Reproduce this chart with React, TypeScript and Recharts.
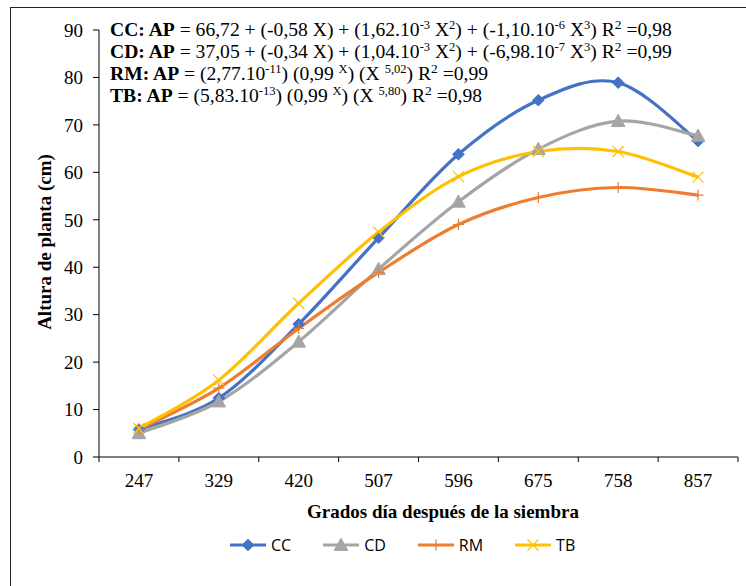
import React from "react";
import { ComposedChart, Line, XAxis, YAxis } from "recharts";

// Growing degree days after sowing (category labels)
const gdd = ["247", "329", "420", "507", "596", "675", "758", "857"];

// Plant height (cm) for each treatment
const cc = [5.8, 12.4, 28.0, 46.2, 63.8, 75.2, 78.9, 66.6];
const cd = [5.0, 11.7, 24.3, 39.6, 53.8, 64.9, 70.8, 67.7];
const rm = [5.8, 14.5, 27.1, 38.9, 49.0, 54.7, 56.8, 55.2];
const tb = [6.0, 16.2, 32.4, 47.4, 59.1, 64.4, 64.4, 59.0];

const yTicks = [0, 10, 20, 30, 40, 50, 60, 70, 80, 90];

const rows = gdd.map((g, i) => ({ g, CC: cc[i], CD: cd[i], RM: rm[i], TB: tb[i] }));

const W = 746;
const H = 586;
const M = { top: 30, right: 8, left: 0, bottom: 0 };
const Y_AXIS_W = 99;
const X_AXIS_H = 129;
const PLOT_W = W - M.left - M.right - Y_AXIS_W;

const COLORS = { CC: "#4472C4", CD: "#A5A5A5", RM: "#ED7D31", TB: "#FFC000" };
const SERIF = "'Liberation Serif', 'Times New Roman', serif";

// Smoothed line: Catmull-Rom style Bezier segments through every point
const smoothCurve = (context: any) => {
  let pts: [number, number][] = [];
  return {
    areaStart() {},
    areaEnd() {},
    lineStart() {
      pts = [];
    },
    point(x: number, y: number) {
      pts.push([+x, +y]);
    },
    lineEnd() {
      const n = pts.length;
      if (!n) return;
      context.moveTo(pts[0][0], pts[0][1]);
      const t = 1 / 6;
      for (let i = 0; i < n - 1; i++) {
        const p0 = pts[Math.max(i - 1, 0)];
        const p1 = pts[i];
        const p2 = pts[i + 1];
        const p3 = pts[Math.min(i + 2, n - 1)];
        context.bezierCurveTo(
          p1[0] + (p2[0] - p0[0]) * t,
          p1[1] + (p2[1] - p0[1]) * t,
          p2[0] - (p3[0] - p1[0]) * t,
          p2[1] - (p3[1] - p1[1]) * t,
          p2[0],
          p2[1]
        );
      }
    },
  };
};

type Shape = "diamond" | "triangle" | "plus" | "cross";

const Marker = ({ shape, color, cx, cy }: { shape: Shape; color: string; cx: number; cy: number }) => {
  if (shape === "diamond") {
    const r = 5.8;
    return <path d={`M${cx},${cy - r}L${cx + r},${cy}L${cx},${cy + r}L${cx - r},${cy}Z`} fill={color} stroke={color} strokeWidth={1} />;
  }
  if (shape === "triangle") {
    const r = 6.8;
    return <path d={`M${cx},${cy - r}L${cx + r},${cy + r * 0.8}L${cx - r},${cy + r * 0.8}Z`} fill={color} stroke={color} strokeWidth={1} />;
  }
  if (shape === "plus") {
    const r = 5.5;
    return <path d={`M${cx - r},${cy}L${cx + r},${cy}M${cx},${cy - r}L${cx},${cy + r}`} stroke={color} strokeWidth={1.2} fill="none" />;
  }
  const r = 5.5;
  return <path d={`M${cx - r},${cy - r}L${cx + r},${cy + r}M${cx - r},${cy + r}L${cx + r},${cy - r}`} stroke={color} strokeWidth={1.2} fill="none" />;
};

const dotFor = (shape: Shape, color: string) => (p: any) =>
  p.cx == null || p.cy == null ? <g key={p.index} /> : <Marker key={p.index} shape={shape} color={color} cx={p.cx} cy={p.cy} />;

// Category ticks: marks sit on the band boundaries, labels at band centres
const XTick = (props: any) => {
  const { x, y, payload, index } = props;
  const half = PLOT_W / gdd.length / 2;
  const top = y - 5;
  return (
    <g>
      <line x1={x - half} y1={top} x2={x - half} y2={top + 5} stroke="#000" strokeWidth={1} />
      {index === gdd.length - 1 && (
        <line x1={x + half} y1={top} x2={x + half} y2={top + 5} stroke="#000" strokeWidth={1} />
      )}
      <text x={x} y={top + 30} textAnchor="middle" fontFamily={SERIF} fontSize={19} fill="#000">
        {payload.value}
      </text>
    </g>
  );
};

const Sup = ({ children, size = 12.5, lift = 7 }: { children: React.ReactNode; size?: number; lift?: number }) => (
  <span style={{ fontSize: size, position: "relative", top: -lift, lineHeight: 0 }}>{children}</span>
);

const legendItems: { key: keyof typeof COLORS; shape: Shape }[] = [
  { key: "CC", shape: "diamond" },
  { key: "CD", shape: "triangle" },
  { key: "RM", shape: "plus" },
  { key: "TB", shape: "cross" },
];

export default function App() {
  return (
    <div style={{ position: "absolute", left: 0, top: 0, width: W, height: H, background: "#fff", overflow: "hidden" }}>
      <div
        style={{
          position: "absolute",
          left: 10,
          top: 7,
          width: W,
          height: H,
          borderLeft: "1px solid #222",
          borderTop: "1px solid #222",
        }}
      />
      <div style={{ position: "absolute", left: 0, top: 0 }}>
        <ComposedChart width={W} height={H} data={rows} margin={M}>
          <XAxis
            dataKey="g"
            scale="band"
            height={X_AXIS_H}
            axisLine={{ stroke: "#000", strokeWidth: 1 }}
            tickLine={false}
            tickSize={5}
            tickMargin={0}
            tick={<XTick />}
            interval={0}
          />
          <YAxis
            width={Y_AXIS_W}
            domain={[0, 90]}
            ticks={yTicks}
            interval={0}
            axisLine={{ stroke: "#000", strokeWidth: 1 }}
            tickLine={{ stroke: "#000", strokeWidth: 1 }}
            tickSize={6}
            tickMargin={10}
            tick={{ fontFamily: SERIF, fontSize: 19, fill: "#000" }}
          />
          <Line dataKey="CC" type={smoothCurve as any} stroke={COLORS.CC} strokeWidth={3.2} dot={dotFor("diamond", COLORS.CC)} isAnimationActive={false} />
          <Line dataKey="CD" type={smoothCurve as any} stroke={COLORS.CD} strokeWidth={3.2} dot={dotFor("triangle", COLORS.CD)} isAnimationActive={false} />
          <Line dataKey="RM" type={smoothCurve as any} stroke={COLORS.RM} strokeWidth={3.2} dot={dotFor("plus", COLORS.RM)} isAnimationActive={false} />
          <Line dataKey="TB" type={smoothCurve as any} stroke={COLORS.TB} strokeWidth={3.2} dot={dotFor("cross", COLORS.TB)} isAnimationActive={false} />
        </ComposedChart>
      </div>

      {/* regression equations */}
      <div
        style={{
          position: "absolute",
          left: 110,
          top: 18.5,
          fontFamily: SERIF,
          fontSize: 19.6,
          lineHeight: "22px",
          color: "#000",
          whiteSpace: "nowrap",
        }}
      >
        <div>
          <b>CC: AP</b> = 66,72 + (-0,58 X) + (1,62.10<Sup>-3</Sup> X<Sup>2</Sup>) + (-1,10.10<Sup>-6</Sup> X<Sup>3</Sup>) R<Sup size={13.5}>2</Sup> =0,98
        </div>
        <div>
          <b>CD: AP</b> = 37,05 + (-0,34 X) + (1,04.10<Sup>-3</Sup> X<Sup>2</Sup>) + (-6,98.10<Sup>-7</Sup> X<Sup>3</Sup>) R<Sup size={13.5}>2</Sup> =0,99
        </div>
        <div>
          <b>RM: AP</b> = (2,77.10<Sup>-11</Sup>) (0,99 <Sup>X</Sup>) (X <Sup>5,02</Sup>) R<Sup size={13.5}>2</Sup> =0,99
        </div>
        <div>
          <b>TB: AP</b> = (5,83.10<Sup>-13</Sup>) (0,99 <Sup>X</Sup>) (X <Sup>5,80</Sup>) R<Sup size={13.5}>2</Sup> =0,98
        </div>
      </div>

      {/* axis titles */}
      <div
        style={{
          position: "absolute",
          left: 443,
          top: 512,
          transform: "translate(-50%, -50%)",
          fontFamily: SERIF,
          fontWeight: "bold",
          fontSize: 19,
          whiteSpace: "nowrap",
          color: "#000",
        }}
      >
        Grados día después de la siembra
      </div>
      <div
        style={{
          position: "absolute",
          left: 45,
          top: 242,
          transform: "translate(-50%, -50%) rotate(-90deg)",
          fontFamily: SERIF,
          fontWeight: "bold",
          fontSize: 19,
          whiteSpace: "nowrap",
          color: "#000",
        }}
      >
        Altura de planta (cm)
      </div>

      {/* legend */}
      <div
        style={{
          position: "absolute",
          left: 229,
          top: 545,
          transform: "translateY(-50%)",
          display: "flex",
          alignItems: "center",
          fontFamily: "'Open Sans', sans-serif",
          fontSize: 16,
          color: "#000",
        }}
      >
        {legendItems.map((it) => (
          <div key={it.key} style={{ display: "flex", alignItems: "center", marginRight: 31 }}>
            <svg width={38} height={16}>
              <line x1={1} y1={8} x2={37} y2={8} stroke={COLORS[it.key]} strokeWidth={3} />
              <Marker shape={it.shape} color={COLORS[it.key]} cx={19} cy={8} />
            </svg>
            <span style={{ marginLeft: 4 }}>{it.key}</span>
          </div>
        ))}
      </div>
    </div>
  );
}
